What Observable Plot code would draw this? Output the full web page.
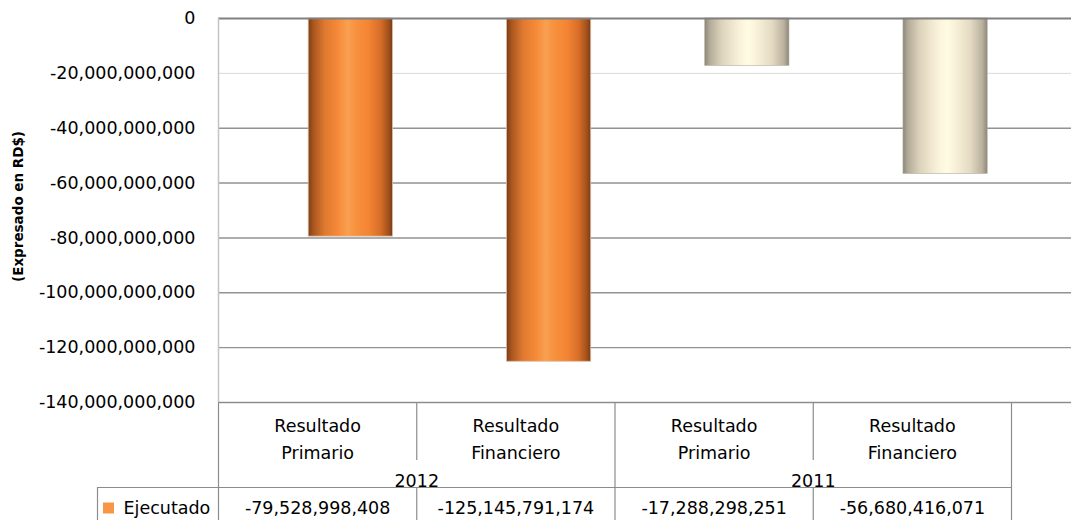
<!DOCTYPE html>
<html><head><meta charset="utf-8">
<script src="https://cdn.jsdelivr.net/npm/d3@7"></script>
<script src="https://cdn.jsdelivr.net/npm/@observablehq/plot@0.6"></script>
<style>body{margin:0;background:#fff}</style>
</head><body><div id="chart"></div>
<script>
// ---- data ----
const years = ["2012", "2012", "2011", "2011"];
const categories = ["Resultado\nPrimario", "Resultado\nFinanciero", "Resultado\nPrimario", "Resultado\nFinanciero"];
const ejecutado = [-79528998408, -125145791174, -17288298251, -56680416071];
const seriesName = "Ejecutado";
const yearGroups = ["2012", "2011"];
const yTicks = [0, -20e9, -40e9, -60e9, -80e9, -100e9, -120e9, -140e9];
const yAxisTitle = "(Expresado en RD$)";

// ---- derived ----
const fmt = d3.formatLocale({decimal: ".", thousands: ",", grouping: [3], currency: ["", ""], minus: "-"}).format(",");
const rows = categories.map((c, i) => ({i, category: c, year: years[i], value: ejecutado[i]}));
const groups = yearGroups.map((y, g) => ({year: y, center: 2 * g + 1}));
const yMin = d3.min(yTicks);

// ---- layout (px / styles) ----
const W = 1071, H = 520, mL = 218, mT = 18, mB = 118;
const tableW = 793, colPx = tableW / categories.length;
const catRowH = 58, yearRowH = 27, valRowH = 33, legendW = 121;
const tableH = catRowH + yearRowH + valRowH;
const barStart = 0.455, barEnd = 0.88;
const font = "DejaVu Sans", fs = 17.5;
const lineCol = "#8c8c8c";

const svg = Plot.plot({
  width: W, height: H,
  marginLeft: mL, marginRight: 0, marginTop: mT, marginBottom: mB,
  style: {fontFamily: font, fontSize: fs + "px", color: "#000", background: "#fff"},
  x: {domain: [0, (W - mL) / colPx], axis: null},
  y: {domain: [yMin, 0], axis: null},
  marks: [
    // gridlines
    Plot.ruleY(yTicks.filter(t => t !== 0 && t !== -20e9), {stroke: "#929292", strokeWidth: 1.4}),
    Plot.ruleY(yTicks.filter(t => t === -20e9), {stroke: "#dadada", strokeWidth: 1}),
    // bars
    Plot.rect(rows.filter(d => d.year === "2012"), {
      x1: d => d.i + barStart, x2: d => d.i + barEnd, y1: 0, y2: d => d.value,
      fill: "url(#gOrange)", stroke: "#dcbfa9", strokeWidth: 0.8
    }),
    Plot.rect(rows.filter(d => d.year === "2011"), {
      x1: d => d.i + barStart, x2: d => d.i + barEnd, y1: 0, y2: d => d.value,
      fill: "url(#gCream)", stroke: "#b4ad9e", strokeWidth: 0.6
    }),
    // zero line & left frame
    Plot.ruleY([0], {stroke: "#808080", strokeWidth: 1.8}),
    Plot.ruleX([0], {y1: yMin, y2: 0, stroke: "#c4c4c4", strokeWidth: 1.5}),
    // y axis
    Plot.axisY({ticks: yTicks, tickFormat: fmt, tickSize: 0, tickPadding: 23, label: null, fontSize: fs, fontFamily: font, fill: "#000"}),
    Plot.text([yAxisTitle], {frameAnchor: "left", textAnchor: "middle", rotate: -90, dx: -200, dy: -4, fontWeight: "bold", fontSize: "13.5px", fontFamily: font, fill: "#000"}),
    // data table
    Plot.ruleY([yMin], {stroke: lineCol, strokeWidth: 1.2}),
    Plot.ruleX([0, 2, 4], {y1: yMin, y2: yMin, insetBottom: -tableH, stroke: lineCol, strokeWidth: 1.2}),
    Plot.ruleX([1, 3], {y1: yMin, y2: yMin, insetBottom: -catRowH, stroke: lineCol, strokeWidth: 1.2}),
    Plot.ruleX([1, 3], {y1: yMin, y2: yMin, insetTop: catRowH + yearRowH, insetBottom: -tableH, stroke: lineCol, strokeWidth: 1.2}),
    Plot.ruleX([0], {y1: yMin, y2: yMin, dx: -legendW, insetTop: catRowH + yearRowH, insetBottom: -tableH, stroke: lineCol, strokeWidth: 1.2}),
    Plot.ruleY([yMin], {x1: 0, x2: categories.length, dy: catRowH + yearRowH, insetLeft: -legendW, stroke: lineCol, strokeWidth: 1.2}),
    Plot.text(rows, {x: d => d.i + 0.5, y: yMin, dy: 34, text: "category", lineHeight: 1.54, fontSize: fs, fontFamily: font, fill: "#000"}),
    Plot.text(groups, {x: "center", y: yMin, dy: 79, text: "year", fontSize: fs, fontFamily: font, fill: "#000"}),
    Plot.text(rows, {x: d => d.i + 0.5, y: yMin, dy: 106, text: d => fmt(d.value), fontSize: fs, fontFamily: font, fill: "#000"}),
    Plot.dot([seriesName], {x: 0, y: yMin, dx: -110, dy: 105.5, symbol: "square", r: 6.2, fill: "#f79646", stroke: "none"}),
    Plot.text([seriesName], {x: 0, y: yMin, dx: -95, dy: 106, text: d => d, textAnchor: "start", fontSize: fs, fontFamily: font, fill: "#000"})
  ]
});

// gradients for cylinder-like bars
const defs = d3.select(svg).insert("defs", ":first-child");
function grad(id, stops) {
  const g = defs.append("linearGradient").attr("id", id).attr("x1", 0).attr("x2", 1).attr("y1", 0).attr("y2", 0);
  stops.forEach(([o, c]) => g.append("stop").attr("offset", o).attr("stop-color", c));
}
grad("gOrange", [[0, "#7a3d14"], [0.06, "#a8561f"], [0.2, "#e07a30"], [0.35, "#f58a38"], [0.47, "#f9a052"], [0.56, "#f7923f"], [0.72, "#f48434"], [0.86, "#d66d28"], [0.95, "#a4521c"], [1, "#7a3d14"]]);
grad("gCream", [[0, "#8c8779"], [0.06, "#b3ab98"], [0.2, "#ddd3bc"], [0.42, "#faf3da"], [0.52, "#fffce4"], [0.62, "#f8f1d8"], [0.8, "#e4dac3"], [0.94, "#bab19e"], [1, "#8c8779"]]);

document.getElementById("chart").appendChild(svg);
</script>
</body></html>
